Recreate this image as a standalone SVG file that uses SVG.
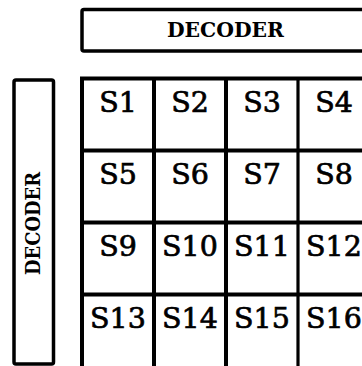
<svg xmlns="http://www.w3.org/2000/svg" width="362" height="366" viewBox="0 0 362 366">
<style>
.box{fill:#fff;stroke:#000;stroke-width:3.5}
.grid{stroke:#000;stroke-width:4;fill:none}
.dec{font-family:"DejaVu Serif",serif;font-weight:bold;font-size:20px;fill:#000;text-anchor:middle}
.cell{font-family:"DejaVu Serif",serif;font-size:28.5px;fill:#000;stroke:#000;stroke-width:0.7;text-anchor:middle}
</style>
<rect width="362" height="366" fill="#fff"/>
<g id="decoder-top">
<rect class="box" x="82" y="9.5" width="300" height="41.5" rx="2"/>
<text class="dec" x="225.5" y="37" textLength="117" lengthAdjust="spacingAndGlyphs">DECODER</text>
</g>
<g id="decoder-left">
<rect class="box" x="14" y="80" width="39.5" height="284" rx="2"/>
<text class="dec" transform="translate(40,223.5) rotate(-90)" x="0" y="0" textLength="103" lengthAdjust="spacingAndGlyphs">DECODER</text>
</g>
<g id="memory-grid">
<path class="grid" d="M82,78.5H370M82,150.5H370M82,222.5H370M82,294.5H370M82,76.5V370M154,78.5V370M226,78.5V370"/>
<path class="grid" style="stroke-width:3.2" d="M298,78.5V370"/>
</g>
<g id="cells">
<text class="cell" x="118" y="112">S1</text>
<text class="cell" x="190" y="112">S2</text>
<text class="cell" x="262" y="112">S3</text>
<text class="cell" x="334" y="112">S4</text>
<text class="cell" x="118" y="184">S5</text>
<text class="cell" x="190" y="184">S6</text>
<text class="cell" x="262" y="184">S7</text>
<text class="cell" x="334" y="184">S8</text>
<text class="cell" x="118" y="256">S9</text>
<text class="cell" x="190" y="256">S10</text>
<text class="cell" x="262" y="256">S11</text>
<text class="cell" x="334" y="256">S12</text>
<text class="cell" x="118" y="328">S13</text>
<text class="cell" x="190" y="328">S14</text>
<text class="cell" x="262" y="328">S15</text>
<text class="cell" x="334" y="328">S16</text>
</g>
</svg>
